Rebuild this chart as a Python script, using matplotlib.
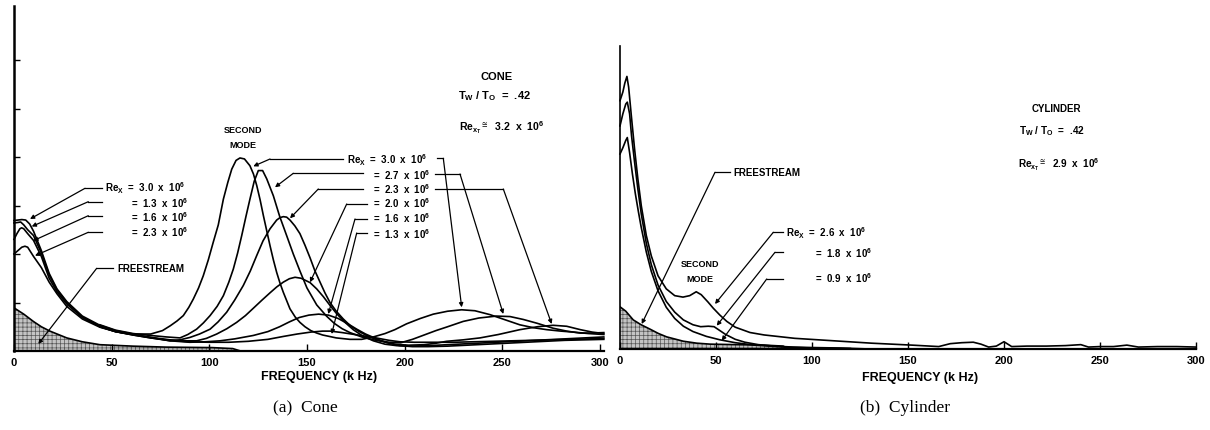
import matplotlib
matplotlib.use("Agg")
import matplotlib.pyplot as plt
from matplotlib.transforms import Affine2D
from matplotlib.lines import Line2D

# ---------------- data ----------------
freq_ticks = [0, 50, 100, 150, 200, 250, 300]
freq_tick_labels = ["0", "50", "100", "150", "200", "250", "300"]

# CONE  (x: kHz, y: arbitrary amplitude units, 1 unit = one y tick)
cone_re30_x = [0, 2, 4, 6, 8, 10, 14, 18, 22, 27, 35, 44, 52, 61, 70, 76, 80, 83.5, 86.7, 89.5,
               91.8, 94.5, 96.9, 99.5, 102, 104.6, 107.2, 109.5, 111.5, 113.7, 115.7, 118, 120.8,
               122.6, 124.3, 126, 127.7, 129.4, 131.1, 132.8, 134.5, 136.2, 137.9, 141.3, 144,
               146.4, 149, 152, 155, 158, 165, 172, 178, 184, 190,
               195, 201, 208, 214.7, 222, 229.2, 236, 243.7, 251, 259, 266, 272.8, 280, 286.4, 294, 302]
cone_re30_y = [2.69, 2.70, 2.71, 2.70, 2.62, 2.47, 2.07, 1.60, 1.28, 1.02, 0.72, 0.53, 0.42, 0.35,
               0.35, 0.42, 0.52, 0.62, 0.73, 0.90, 1.07, 1.30, 1.55, 1.88, 2.24, 2.60, 3.13, 3.48,
               3.75, 3.93, 3.98, 3.96, 3.82, 3.65, 3.41, 3.12, 2.79, 2.48, 2.17, 1.88, 1.62, 1.40,
               1.21, 0.87, 0.70, 0.59, 0.50, 0.42, 0.37, 0.33,
               0.27, 0.24, 0.24, 0.29, 0.36, 0.44, 0.56, 0.67, 0.76, 0.82, 0.85, 0.83, 0.75, 0.65,
               0.54, 0.48, 0.44, 0.41, 0.39, 0.36, 0.34]

cone_re27_x = [44, 52, 61, 70, 78, 85, 89, 93.5, 97, 100.4, 104, 107.2, 110, 112.3, 114.5, 116.6,
               118.8, 120.8, 123, 125.1, 127.3, 129.4, 132.8, 136, 139.6, 143, 146.4, 150, 155, 160,
               164, 168, 172, 178, 184, 192, 198, 204, 210, 216, 222, 230, 238, 247, 254, 260.8,
               268, 276, 283, 289.8, 296, 302]
cone_re27_y = [0.54, 0.43, 0.36, 0.32, 0.29, 0.27, 0.34, 0.45, 0.58, 0.73, 0.92, 1.14, 1.42, 1.69,
               2.02, 2.38, 2.78, 3.13, 3.50, 3.72, 3.72, 3.55, 3.20, 2.78, 2.38, 2.00, 1.65, 1.30,
               0.95, 0.72, 0.57, 0.46, 0.38, 0.29, 0.23, 0.18, 0.17, 0.24, 0.33, 0.42, 0.50, 0.61,
               0.68, 0.72, 0.71, 0.65, 0.57, 0.47, 0.41, 0.37, 0.37, 0.38]

cone_re23_x = [0, 2, 4, 5.6, 7, 10, 14, 18, 22, 27, 35, 44, 52, 61, 70, 79.9, 85, 90.1, 95, 100.4,
               104.5, 108.9, 113, 117.4, 121, 124.3, 127.5, 131.1, 134.5, 136.2, 137.9, 139.6,
               141.3, 143.8, 146.4, 149, 151.6, 154, 156.7, 159.2, 161.8, 165, 168.6, 172.5, 177.2,
               182, 187.4, 195, 202, 210, 216, 221.5, 230, 238.6, 248, 259, 268, 276, 283, 290, 296, 302]
cone_re23_y = [2.00, 2.07, 2.14, 2.16, 2.14, 1.95, 1.72, 1.42, 1.18, 0.92, 0.66, 0.49, 0.40, 0.34,
               0.28, 0.21, 0.23, 0.28, 0.35, 0.45, 0.60, 0.80, 1.05, 1.35, 1.65, 1.97, 2.27, 2.52,
               2.70, 2.75, 2.77, 2.76, 2.70, 2.58, 2.42, 2.18, 1.92, 1.66, 1.42, 1.20, 1.00, 0.82,
               0.66, 0.51, 0.39, 0.29, 0.21, 0.14, 0.12, 0.13, 0.16, 0.20, 0.23, 0.27, 0.34, 0.44,
               0.50, 0.53, 0.51, 0.44, 0.39, 0.36]

cone_re20_x = [44, 52, 61, 70, 80, 87, 93.5, 98.5, 103.8, 109, 114, 118.5, 122.5, 127, 131.1,
               134.5, 137.9, 141, 143.9, 147, 151.6, 155, 158.4, 161.8, 165.2, 169.5, 173.7, 178.5,
               184, 190, 196, 203, 212, 222, 232, 242, 252, 262, 272, 282, 292, 302]
cone_re20_y = [0.50, 0.40, 0.34, 0.28, 0.23, 0.21, 0.21, 0.26, 0.35, 0.46, 0.59, 0.73, 0.88, 1.05,
               1.20, 1.32, 1.42, 1.49, 1.52, 1.50, 1.41, 1.28, 1.12, 0.94, 0.77, 0.59, 0.44, 0.31,
               0.21, 0.14, 0.11, 0.10, 0.11, 0.13, 0.15, 0.17, 0.19, 0.21, 0.23, 0.25, 0.27, 0.29]

cone_re16_x = [0, 1.5, 3, 3.9, 5, 7, 10, 14, 18, 22, 27, 35, 44, 52, 61, 70, 80, 90, 98, 105.5,
               113, 122.5, 130, 136, 141, 146, 151, 156, 161, 166, 171, 175.5, 180, 185.7,
               191, 197.6, 204, 212, 222, 232, 242, 252, 262, 272, 282, 292, 302]
cone_re16_y = [2.30, 2.42, 2.52, 2.54, 2.52, 2.42, 2.28, 1.95, 1.50, 1.22, 0.97, 0.69, 0.50, 0.40,
               0.33, 0.27, 0.21, 0.18, 0.19, 0.21, 0.25, 0.32, 0.40, 0.50, 0.60, 0.69, 0.74, 0.76,
               0.74, 0.67, 0.56, 0.45, 0.35, 0.25, 0.17, 0.11, 0.09, 0.09, 0.10, 0.12, 0.14, 0.16,
               0.18, 0.20, 0.22, 0.23, 0.24]

cone_re13_x = [0, 2, 3.4, 5, 7, 10, 14, 18, 22, 27, 35, 44, 52, 61, 70, 80, 90, 100, 110, 120, 130,
               137.9, 145, 152, 158, 162, 168, 176, 184, 192, 197.6, 205, 215, 225, 235, 245, 255,
               265, 275, 285, 295, 302]
cone_re13_y = [2.64, 2.65, 2.66, 2.60, 2.50, 2.38, 2.02, 1.57, 1.26, 1.00, 0.70, 0.51, 0.40, 0.33,
               0.27, 0.22, 0.19, 0.18, 0.18, 0.20, 0.24, 0.30, 0.35, 0.39, 0.41, 0.41, 0.38, 0.33,
               0.28, 0.22, 0.19, 0.18, 0.18, 0.18, 0.19, 0.20, 0.21, 0.22, 0.23, 0.24, 0.25, 0.26]

cone_free_x = [0, 5, 9.9, 14, 18.4, 27, 35, 44, 61, 78, 101.5, 112, 116]
cone_free_y = [0.89, 0.76, 0.61, 0.50, 0.41, 0.27, 0.19, 0.13, 0.10, 0.08, 0.07, 0.05, 0.0]

# CYLINDER
cyl_re26_x = [0, 1.5, 2.5, 3.6, 4.5, 5.9, 7.6, 9.3, 11.1, 13.7, 16.3, 19.8, 24.1, 28.5, 32.8, 36.3,
              39.7, 42.3, 45.8, 48.6, 52, 55.6, 60, 67.7, 75, 91, 111, 131, 152, 166, 172, 178, 184,
              188, 192, 196, 200, 204, 212, 222, 232, 240, 244, 250, 257, 264, 270, 280, 290, 300]
cyl_re26_y = [5.12, 5.30, 5.48, 5.62, 5.40, 4.81, 4.12, 3.51, 2.95, 2.34, 1.92, 1.51, 1.24, 1.10,
              1.07, 1.10, 1.18, 1.12, 0.97, 0.84, 0.70, 0.57, 0.45, 0.34, 0.29, 0.22, 0.17, 0.12,
              0.08, 0.05, 0.11, 0.13, 0.14, 0.10, 0.04, 0.06, 0.15, 0.05, 0.06, 0.06, 0.07, 0.09,
              0.04, 0.05, 0.05, 0.08, 0.04, 0.05, 0.05, 0.04]

cyl_re18_x = [0, 1.5, 3, 3.8, 5, 6, 7.6, 9.3, 11.1, 13.7, 16.3, 19.8, 24.1, 28.5, 33, 38, 42, 46,
              49, 52, 55, 60, 65, 72, 80, 90, 100, 115, 130]
cyl_re18_y = [4.60, 4.85, 5.05, 5.09, 4.85, 4.40, 3.85, 3.30, 2.78, 2.18, 1.74, 1.32, 0.98, 0.76,
              0.60, 0.50, 0.46, 0.47, 0.46, 0.38, 0.30, 0.20, 0.14, 0.09, 0.06, 0.04, 0.03, 0.02, 0.0]

cyl_re09_x = [0, 1.5, 3, 3.8, 5, 6.5, 8, 9.5, 11, 13.7, 16.3, 19.8, 24.1, 28.5, 33, 38, 45, 52, 60,
              70, 85, 100, 120]
cyl_re09_y = [4.02, 4.15, 4.30, 4.36, 4.05, 3.60, 3.20, 2.85, 2.52, 2.00, 1.60, 1.20, 0.86, 0.63,
              0.47, 0.36, 0.26, 0.19, 0.13, 0.08, 0.04, 0.02, 0.01]

cyl_free_x = [0, 3, 6.9, 11, 15.6, 20, 24.3, 33, 40, 47, 60, 75, 85, 88]
cyl_free_y = [0.87, 0.78, 0.60, 0.50, 0.41, 0.32, 0.25, 0.16, 0.12, 0.10, 0.09, 0.08, 0.06, 0.0]

# ---------------- style ----------------
W, H = 1210, 431
plt.rcParams['font.family'] = ['Liberation Sans', 'DejaVu Sans']
plt.rcParams['font.weight'] = 'bold'
plt.rcParams['mathtext.fontset'] = 'custom'
plt.rcParams['mathtext.rm'] = 'Liberation Sans:bold'
plt.rcParams['mathtext.bf'] = 'Liberation Sans:bold'
plt.rcParams['mathtext.it'] = 'Liberation Sans:bold'
plt.rcParams['mathtext.sf'] = 'Liberation Sans:bold'
plt.rcParams['mathtext.default'] = 'regular'
plt.rcParams['hatch.linewidth'] = 0.5
plt.rcParams['hatch.color'] = '#444444'

fig = plt.figure(figsize=(W / 100, H / 100), dpi=100)
px = Affine2D().scale(1.0 / W, -1.0 / H).translate(0, 1) + fig.transFigure

def axes_px(x0, y_bottom, width, height):
    return fig.add_axes([x0 / W, (H - y_bottom) / H, width / W, height / H])

LW = 1.2

# ---------------- cone ----------------
ax1 = axes_px(14, 352, 302 * 1.953, 345)
ax1.set_xlim(0, 302)
ax1.set_ylim(0, 345 / 48.5)
ax1.fill_between(cone_free_x, 0, cone_free_y, facecolor='#c4c4c4', edgecolor='#555555',
                 hatch='++++', linewidth=0)
ax1.plot(cone_free_x, cone_free_y, color='k', lw=LW)
for xs, ys in [(cone_re30_x, cone_re30_y), (cone_re27_x, cone_re27_y), (cone_re23_x, cone_re23_y),
               (cone_re20_x, cone_re20_y), (cone_re16_x, cone_re16_y), (cone_re13_x, cone_re13_y)]:
    ax1.plot(xs, ys, color='k', lw=LW, solid_joinstyle='round', clip_on=False)
ax1.set_yticks([1, 2, 3, 4, 5, 6])
ax1.set_yticklabels([])

# ---------------- cylinder ----------------
ax2 = axes_px(620, 350, 300 * 1.92, 303)
ax2.set_xlim(0, 300)
ax2.set_ylim(0, 303 / 48.5)
ax2.fill_between(cyl_free_x, 0, cyl_free_y, facecolor='#c4c4c4', edgecolor='#555555',
                 hatch='++++', linewidth=0)
ax2.plot(cyl_free_x, cyl_free_y, color='k', lw=LW)
for xs, ys in [(cyl_re26_x, cyl_re26_y), (cyl_re18_x, cyl_re18_y), (cyl_re09_x, cyl_re09_y)]:
    ax2.plot(xs, ys, color='k', lw=LW, solid_joinstyle='round', clip_on=False)
ax2.set_yticks([])

for ax, lwl in [(ax1, 1.8), (ax2, 1.2)]:
    ax.spines['top'].set_visible(False)
    ax.spines['right'].set_visible(False)
    ax.spines['left'].set_linewidth(lwl)
    ax.spines['bottom'].set_linewidth(1.6)
    ax.set_xticks(freq_ticks)
    ax.set_xticklabels(freq_tick_labels)
    ax.tick_params(axis='x', direction='in', length=5, width=1, labelsize=8, pad=4)
    ax.tick_params(axis='y', direction='in', length=4, width=1)
    ax.patch.set_alpha(0)

# ---------------- text & leaders (pixel coordinates) ----------------
FS = 7

def txt(x, y, s, size=FS, ha='left', va='center', **kw):
    fig.text(x, y, s, transform=px, fontsize=size, ha=ha, va=va, **kw)

def leader(points):
    xs = [p[0] for p in points[:-1]]
    ys = [p[1] for p in points[:-1]]
    fig.add_artist(Line2D(xs, ys, transform=px, color='k', lw=0.9))
    ax1.annotate('', xy=points[-1], xycoords=px, xytext=points[-2], textcoords=px,
                 annotation_clip=False,
                 arrowprops=dict(arrowstyle='-|>', color='k', lw=0.9, mutation_scale=6,
                                 shrinkA=0, shrinkB=0))

# axis labels
txt(319, 377, 'FREQUENCY (k Hz)', size=9, ha='center')
txt(920, 378, 'FREQUENCY (k Hz)', size=9, ha='center')

# cone left group
txt(105, 188, r'Re$_{X}$  =  3.0  x  10$^{6}$')
txt(131, 202.7, r'=  1.3  x  10$^{6}$')
txt(131, 216.7, r'=  1.6  x  10$^{6}$')
txt(131, 231.7, r'=  2.3  x  10$^{6}$')
leader([(101.7, 189.3), (85, 189.3), (30, 220)])
leader([(101.7, 202.7), (88.3, 202.7), (31.7, 227.5)])
leader([(101.7, 216.7), (88.3, 216.7), (33.3, 241.7)])
leader([(101.7, 233.3), (88.3, 233.3), (35, 256.7)])

txt(117, 269, 'FREESTREAM')
leader([(113, 269.3), (96.7, 269.3), (38.3, 345)])

txt(243, 131, 'SECOND', size=6.5, ha='center')
txt(243, 146, 'MODE', size=6.5, ha='center')

# cone right group
txt(346.7, 160.7, r'Re$_{X}$  =  3.0  x  10$^{6}$')
for yy, s in [(175, '2.7'), (189.3, '2.3'), (203.3, '2.0'), (218.3, '1.6'), (234, '1.3')]:
    txt(373.3, yy, r'=  ' + s + r'  x  10$^{6}$')
leader([(343.3, 160), (270, 160), (253.3, 167.3)])
leader([(363.3, 174.3), (293.3, 174.3), (275, 188.3)])
leader([(363.3, 190), (318.3, 190), (290, 219.3)])
leader([(366.7, 205), (346.7, 205), (310, 283.3)])
leader([(366.7, 220), (355, 220), (328.3, 315)])
leader([(366.7, 234), (356.7, 234), (331.7, 335)])
leader([(436.7, 159.3), (443.3, 159.3), (461.7, 308.3)])
leader([(435, 175), (460, 175), (503.3, 315)])
leader([(435, 190), (503.3, 190), (551.7, 325)])

txt(496.7, 76.7, 'CONE', size=8, ha='center')
txt(458, 96, r'T$_{W}$ / T$_{O}$  =  .42', size=8)
txt(459, 128, r'Re$_{x_T}$$^{\cong}$  3.2  x  10$^{6}$', size=7.6)

# cylinder texts
txt(1056, 109.3, 'CYLINDER', size=7, ha='center')
txt(1019, 131, r'T$_{W}$ / T$_{O}$  =  .42', size=7.2)
txt(1018, 165, r'Re$_{x_T}$$^{\cong}$  2.9  x  10$^{6}$', size=7.2)

txt(733, 173.3, 'FREESTREAM')
leader([(730, 173.3), (715, 173.3), (641.7, 325)])

txt(700, 265, 'SECOND', size=6.5, ha='center')
txt(700, 280, 'MODE', size=6.5, ha='center')

txt(786, 233.3, r'Re$_{X}$  =  2.6  x  10$^{6}$')
txt(815, 252.7, r'=  1.8  x  10$^{6}$')
txt(815, 278.3, r'=  0.9  x  10$^{6}$')
leader([(782.7, 233.3), (773.3, 233.3), (715, 305)])
leader([(782.7, 253.3), (775, 253.3), (716.7, 326.7)])
leader([(782.7, 280), (766.7, 280), (721.7, 341.7)])

# captions
fig.text(305, 408, '(a)  Cone', transform=px, fontsize=12.5, ha='center', va='center',
         family='Liberation Serif', fontweight='normal')
fig.text(905, 408, '(b)  Cylinder', transform=px, fontsize=12.5, ha='center', va='center',
         family='Liberation Serif', fontweight='normal')

fig.savefig('out.png', dpi=100)
